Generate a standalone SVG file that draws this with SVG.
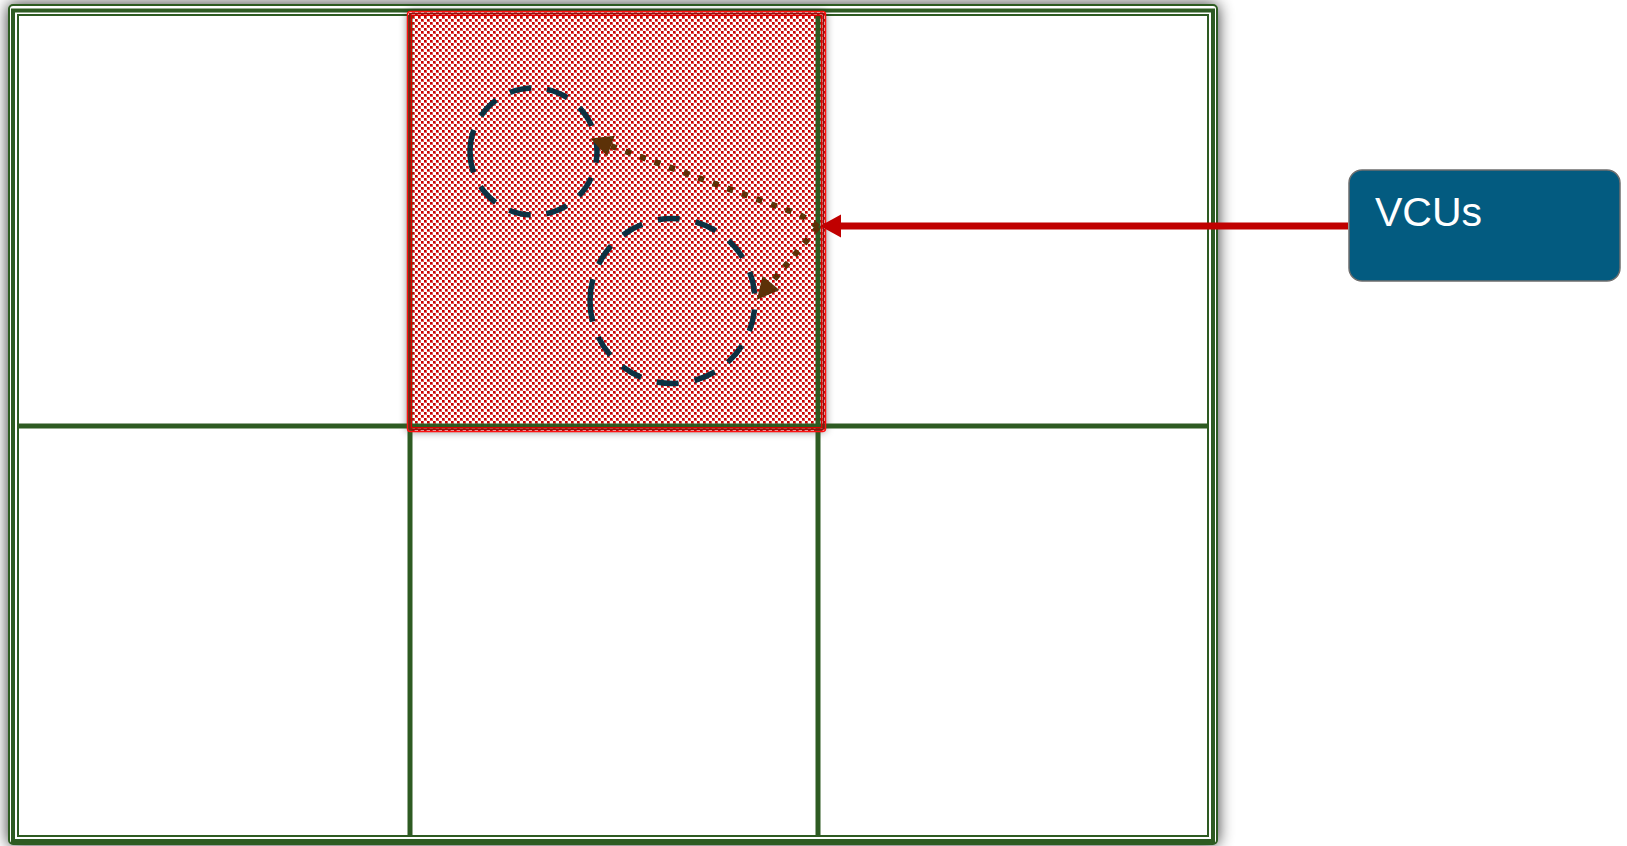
<svg xmlns="http://www.w3.org/2000/svg" width="1627" height="846" viewBox="0 0 1627 846">
<style>
.frame{fill:none;stroke:#2e5b22}
.grid{stroke:#2e5b22;stroke-width:5;fill:none}
.ring{fill:none;stroke:#0c3142;stroke-width:5.5}
.dot{fill:none;stroke:#5c3108;stroke-width:6;stroke-dasharray:6 9.5}
.red{fill:none;stroke:#c00000;stroke-width:7}
.lbl{font-family:"Liberation Sans",Arial,sans-serif;font-size:41px;fill:#ffffff}
</style>
<defs>
<filter id="sh" x="-5%" y="-5%" width="110%" height="110%">
<feGaussianBlur in="SourceAlpha" stdDeviation="8"/>
<feComponentTransfer><feFuncA type="linear" slope="0.8"/></feComponentTransfer>
<feMerge><feMergeNode/><feMergeNode in="SourceGraphic"/></feMerge>
</filter>
<filter id="sh2" x="-5%" y="-5%" width="110%" height="110%">
<feGaussianBlur in="SourceAlpha" stdDeviation="4"/>
<feComponentTransfer><feFuncA type="linear" slope="0.5"/></feComponentTransfer>
<feMerge><feMergeNode/><feMergeNode in="SourceGraphic"/></feMerge>
</filter>
<pattern id="chk" patternUnits="userSpaceOnUse" x="412" y="16" width="6" height="6">
<rect width="6" height="6" fill="#ffffff"/>
<rect x="0" y="0" width="3" height="3" fill="#de5a5a"/>
<rect x="3" y="3" width="3" height="3" fill="#de5a5a"/>
<rect x="0" y="0" width="2" height="2" fill="#c80000"/>
<rect x="3" y="3" width="2" height="2" fill="#c80000"/>
</pattern>
<marker id="ab" markerUnits="userSpaceOnUse" markerWidth="24" markerHeight="24" refX="0" refY="11" orient="auto" overflow="visible">
<path d="M0,0 L22,11 L0,22 z" fill="#5c3108"/>
</marker>
<marker id="ar" markerUnits="userSpaceOnUse" markerWidth="24" markerHeight="24" refX="0" refY="11.5" orient="auto" overflow="visible">
<path d="M0,0 L21,11.5 L0,23 z" fill="#c00000"/>
</marker>
</defs>
<rect width="1627" height="846" fill="#ffffff"/>
<g id="frame">
<rect x="9" y="5" width="1208" height="839" rx="4" fill="#ffffff" stroke="#2e5b22" stroke-width="2" filter="url(#sh)"/>
<rect class="frame" x="13" y="10.5" width="1200" height="830.5" stroke-width="4"/>
<rect class="frame" x="18" y="15" width="1190" height="821" stroke-width="2"/>
</g>
<g id="highlight-cell">
<rect x="407.5" y="11.5" width="418" height="420" rx="3" fill="url(#chk)" filter="url(#sh2)"/>
</g>
<g id="grid">
<line class="grid" x1="18" y1="426" x2="1208" y2="426"/>
<line class="grid" x1="410" y1="15" x2="410" y2="836"/>
<line class="grid" x1="818" y1="15" x2="818" y2="836"/>
</g>
<g id="highlight-outline">
<rect x="407.5" y="11.5" width="418" height="420" rx="3" fill="none" stroke="#ff1010" stroke-width="1.5"/>
<rect x="409.5" y="13.5" width="414" height="416" rx="2" fill="none" stroke="#8a1410" stroke-width="1.5"/>
<rect x="411.3" y="15.3" width="410.4" height="412.4" fill="none" stroke="#e00000" stroke-width="1.5"/>
</g>
<g id="vcu1">
<path class="ring" style="stroke-dasharray:22 15.7" d="M470,151.5 a63.5,63.5 0 1,1 127,0 a63.5,63.5 0 1,1 -127,0"/>
</g>
<g id="vcu2">
<path class="ring" style="stroke-dasharray:22 16.2" d="M590,301 a82.5,82.5 0 1,1 165,0 a82.5,82.5 0 1,1 -165,0"/>
</g>
<g id="vcus">
<rect x="1349" y="170" width="271" height="111" rx="13" fill="#035b80" stroke="#6e6e6e" stroke-width="1.5"/>
<text class="lbl" x="1375" y="226">VCUs</text>
</g>
<g id="connectors">
<path class="red" d="M1348,226 L841,226" marker-end="url(#ar)"/>
<path class="dot" d="M818,227 C808,219 800,214 787,210 L611,146" marker-end="url(#ab)"/>
<path class="dot" d="M818,227 L771,283" marker-end="url(#ab)"/>
</g>
</svg>
